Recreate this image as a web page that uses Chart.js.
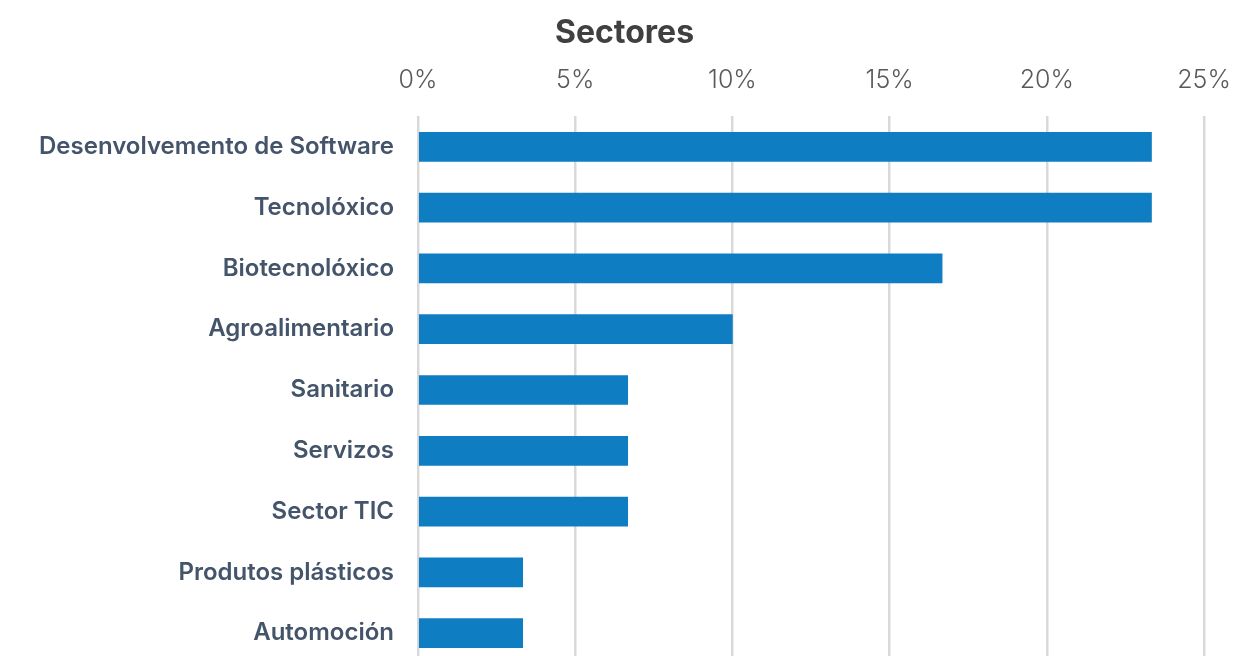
<!DOCTYPE html>
<html>
<head>
<meta charset="utf-8">
<script src="https://cdn.jsdelivr.net/npm/chart.js@4"></script>
<style>
  body { margin: 0; background: #fff; }
  #wrap { width: 1239px; height: 656px; overflow: hidden; }
  #inner { width: 1239px; height: 694px; position: relative; }
</style>
</head>
<body>
<div id="wrap"><div id="inner"><canvas id="sectorChart"></canvas></div></div>
<script>
// sectores (share of total, %)
const sectors = ['Desenvolvemento de Software', 'Tecnolóxico', 'Biotecnolóxico', 'Agroalimentario',
                 'Sanitario', 'Servizos', 'Sector TIC', 'Produtos plásticos', 'Automoción'];
const shares = [23.33, 23.33, 16.67, 10.0, 6.67, 6.67, 6.67, 3.33, 3.33];
const tickValues = [0, 5, 10, 15, 20, 25];

const ctx = document.getElementById('sectorChart').getContext('2d');

const sectorChart = new Chart(ctx, {
    type: 'bar',
    data: {
        labels: sectors,
        datasets: [{
            label: 'Sectores',
            data: shares,
            backgroundColor: '#0f7dc2',
            barThickness: 29
        }]
    },
    options: {
        indexAxis: 'y',
        responsive: true,
        maintainAspectRatio: false,
        animation: false,
        layout: {
            padding: { left: 10, right: 0, top: 4, bottom: 0 }
        },
        scales: {
            x: {
                position: 'top',
                min: 0,
                max: 25,
                afterBuildTicks: function(axis) {
                    axis.ticks = tickValues.map(v => ({ value: v }));
                },
                afterFit: function(axis) {
                    // keep the plot right edge where the reference has it
                    axis.paddingLeft = 0;
                    axis.paddingRight = 35;
                },
                ticks: {
                    callback: function(value) {
                        return value + '%';
                    },
                    color: '#595959',
                    padding: 21,
                    font: { family: 'Inter', size: 25, weight: '300' }
                },
                grid: {
                    color: '#d9d9d9',
                    lineWidth: 2.5,
                    drawTicks: false
                },
                border: { display: false }
            },
            y: {
                afterFit: function(axis) {
                    axis.width = 408;
                },
                ticks: {
                    color: '#44546a',
                    padding: 16,
                    font: { family: 'Inter', size: 24, weight: '600' }
                },
                grid: { display: false },
                border: { display: false }
            }
        },
        plugins: {
            legend: { display: false },
            tooltip: { enabled: false },
            title: {
                display: true,
                text: 'Sectores',
                color: '#404040',
                padding: { top: 10, bottom: -8 },
                font: { family: 'Inter', size: 32, weight: 'bold' }
            }
        }
    }
});
</script>
</body>
</html>
